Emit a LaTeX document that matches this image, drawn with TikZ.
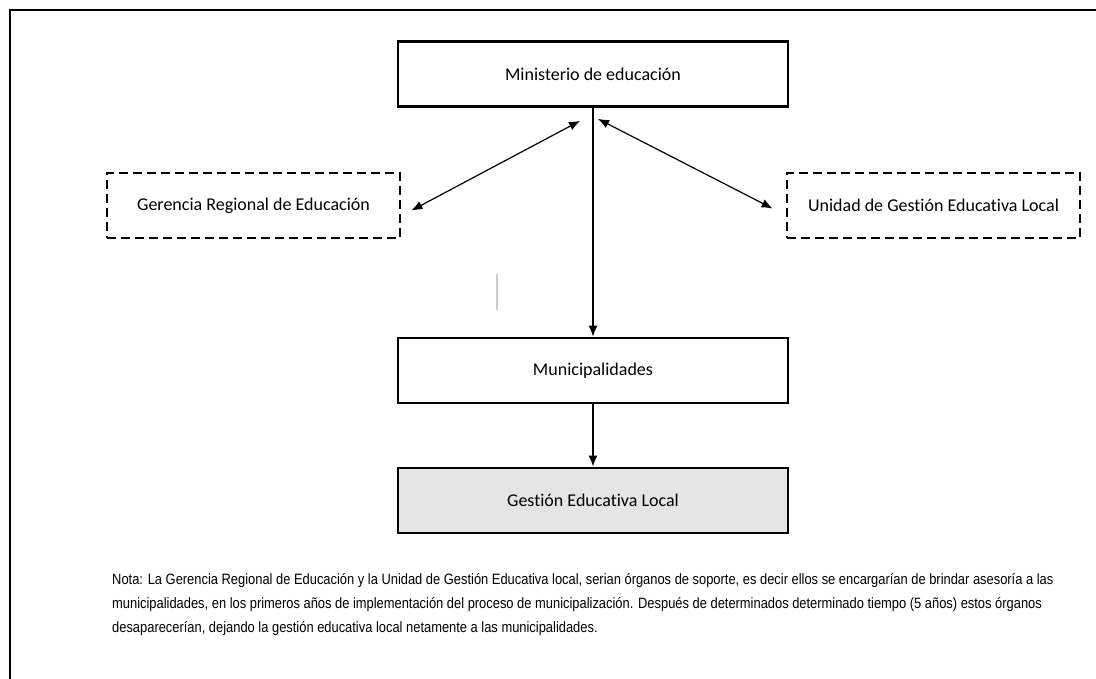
\documentclass[tikz,border=0pt]{standalone}
\usepackage{fontspec}
\setmainfont{Carlito}[Ligatures=NoCommon]
\newfontfamily\notafont[FakeStretch=0.86]{Liberation Sans}
\usepackage{tikz}
\usetikzlibrary{arrows.meta,calc}
\tikzset{
         >={Latex[length=11pt,width=9pt]},
         organo/.style={draw,line width=2.8pt,minimum width=390pt,minimum height=65pt,inner sep=0pt,font=\fontsize{18}{20}\selectfont},
         soporte/.style={organo,dashed,dash pattern=on 9pt off 5pt,minimum width=293pt},
         flecha/.style={line width=1.2pt}
        }

\begin{document}
\begin{tikzpicture}[x=1pt,y=-1pt]
\useasboundingbox (0,0) rectangle (1096,679);
\draw[line width=2pt] (10,679)--(10,10)--(1096,10); % marco
\node[organo] (min) at (593,74) {Ministerio de educación}; % ministerio
\node[soporte] (ger) at (253.5,205.5) {Gerencia Regional de Educación}; % gerencia
\node[soporte] (uni) at (933.5,205.5) {Unidad de Gestión Educativa Local}; % unidad
\node[organo] (mun) at (593,370.5) {Municipalidades}; % municipalidades
\node[organo,fill=black!10] (ges) at (593,500.5) {Gestión Educativa Local}; % gestion local
\coordinate (minL) at ($(min.south)+(-13,13)$);
\coordinate (minR) at ($(min.south)+(5,11)$);
\coordinate (gerT) at ($(ger.east)+(10,5)$);
\coordinate (uniT) at ($(uni.west)+(-13,3)$);
\draw[flecha,<->] (minL)--(gerT); % ministerio - gerencia
\draw[flecha,<->] (minR)--(uniT); % ministerio - unidad
\draw[flecha,->] (min.south)--(mun.north); % ministerio - municipalidades
\draw[flecha,->] (mun.south)--(ges.north); % municipalidades - gestion
\draw[black!20,line width=1.5pt] (497,274)--(497,310);
\node[anchor=north west,align=left,inner sep=0pt,font=\notafont\fontsize{15}{24}\selectfont] (nota) at (112,573)
 {Nota: La Gerencia Regional de Educación y la Unidad de Gestión Educativa local, serian órganos de soporte, es decir ellos se encargarían de brindar asesoría a las\\
  municipalidades, en los primeros años de implementación del proceso de municipalización. Después de determinados determinado tiempo (5 años) estos órganos\\
  desaparecerían, dejando la gestión educativa local netamente a las municipalidades.}; % nota
\end{tikzpicture}
\end{document}
